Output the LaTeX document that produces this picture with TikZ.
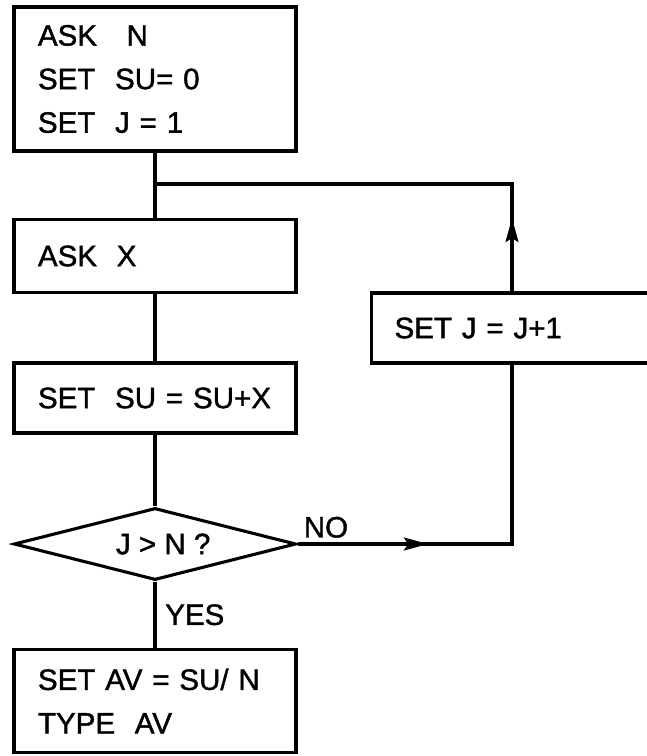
\documentclass[tikz,border=0pt]{standalone}
\usepackage{fontspec}
\setmainfont{Liberation Sans}[FakeBold=1.3]
\usetikzlibrary{shapes.geometric,arrows.meta,positioning}

\begin{document}
\begin{tikzpicture}[
    x=0.025cm, y=-0.025cm,
    every node/.style={font=\fontsize{21}{31}\selectfont},
    stepbox/.style={rectangle, draw, line width=2.2pt, inner xsep=0.6cm, text width=5.85cm, align=left},
    decision/.style={diamond, draw, line width=2.2pt, aspect=3.9, inner sep=0pt, minimum width=7.05cm, minimum height=1.8cm},
    flow/.style={-{Stealth[length=0.6cm, width=0.32cm, inset=0.1cm]}},
    every path/.style={line width=2.2pt}
]
\useasboundingbox (0,0) rectangle (646,756);

\node[stepbox, minimum height=3.6cm] (init) at (155,79) {ASK~~~N\\SET~~SU=~0\\SET~~J~=~1};
\node[stepbox, minimum height=1.825cm] (askx) at (155,256) {ASK~~X};
\node[stepbox, minimum height=1.75cm] (sumup) at (155,398) {SET~~SU~=~SU+X};
\node[decision] (test) at (155,544) {~~J~>~N~?};
\node[stepbox, minimum height=2.575cm] (avg) at (155,701) {SET AV~=~SU/~N\\TYPE~~AV};
\node[stepbox, anchor=west, text width=6.6cm, inner xsep=0.575cm, minimum height=1.75cm] (incr) at (370,328) {SET J~=~J+1};

\coordinate (merge) at (155,184);
\coordinate (backup) at (512,184);
\coordinate (uptip) at (512,218);
\coordinate (notip) at (428,544);
\coordinate (nocorner) at (512,544);

\draw (init) -- (askx);
\draw (askx) -- (sumup);
\draw (sumup) -- (test);
\draw (test) -- node[right=0.1cm] {YES} (avg);
\draw (test.east) -- (nocorner) -- (incr.south -| nocorner);
\draw[flow] (test.east) -- node[pos=0, above right] {NO} (notip);
\draw (incr.north -| backup) -- (backup) -- (merge);
\draw[flow] (incr.north -| backup) -- (uptip);

\end{tikzpicture}
\end{document}
